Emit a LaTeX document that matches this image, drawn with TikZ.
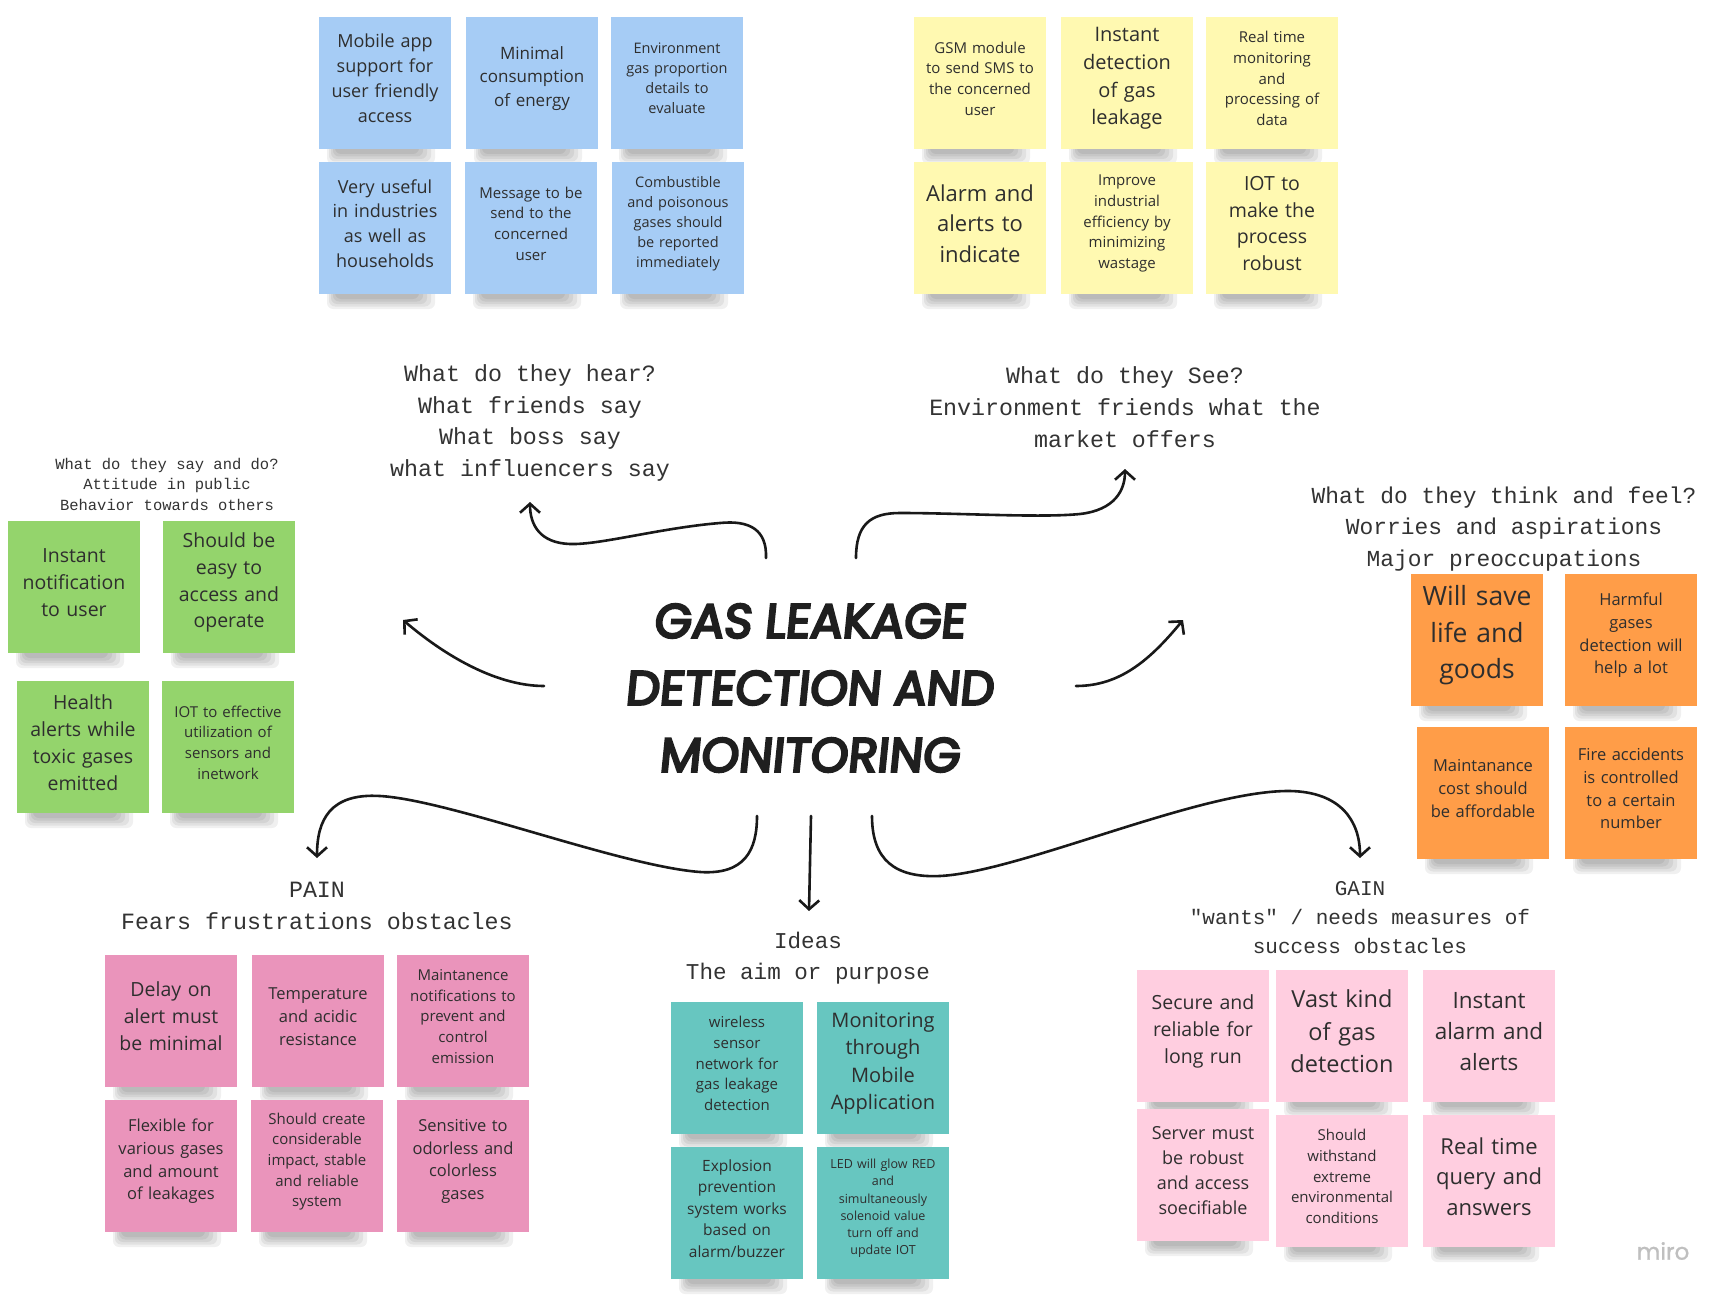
\documentclass[tikz,border=0pt]{standalone}
\usepackage{fontspec}
\setmainfont{Open Sans}
\newfontfamily\monofont{Liberation Mono}
\newfontfamily\titlefont{Poppins}[FakeBold=5,FakeSlant=0.1]
\newfontfamily\wmfont{Poppins}[FakeBold=1]
\usetikzlibrary{arrows.meta}
\definecolor{nblue}{HTML}{A6CCF5}
\definecolor{nyellow}{HTML}{FFF9B1}
\definecolor{ngreen}{HTML}{94D46C}
\definecolor{norange}{HTML}{FF9D48}
\definecolor{npink}{HTML}{EA94BB}
\definecolor{nteal}{HTML}{67C6C0}
\definecolor{nlpink}{HTML}{FFCEE0}
\definecolor{notetext}{HTML}{2E2E2E}
\definecolor{headtext}{HTML}{333333}
\tikzset{
  note/.style={minimum width=132pt, minimum height=132pt, inner sep=0pt},
  notetxt/.style={inner sep=0pt, text width=126pt, align=center, text=notetext},
  head/.style={align=center, inner sep=0pt, text=headtext},
  flow/.style={line width=2.6pt, draw=black!90, -{Straight Barb[length=9pt,width=20pt]}, line cap=round, line join=round},
}
\newcommand\stickynote[6]{%
  \foreach \k in {0,...,4}{\fill[black, opacity=0.06, rounded corners=6pt] (#2+8+2*\k, #3+118) rectangle (#2+116-4*\k, #3+147-2.5*\k);}
  \node[note, fill=#4] (#1) at (#2+66,#3+66) {};
  \node[notetxt, font=\fontsize{#5}{\fpeval{1.38*#5}}\selectfont] (#1t) at ([yshift=4.5pt]#1.center) {#6};
}
\begin{document}
\begin{tikzpicture}[x=1pt,y=-1pt]
\fill[white] (0,0) rectangle (1730,1300);
\useasboundingbox (0,0) rectangle (1730,1300);

% blue
\stickynote{b1}{319}{17}{nblue}{18}{Mobile app\\support for\\user friendly\\access}
\stickynote{b2}{466}{17}{nblue}{17}{Minimal\\consumption\\of energy}
\stickynote{b3}{611}{17}{nblue}{14.5}{Environment\\gas proportion\\details to\\evaluate}
\stickynote{b4}{319}{162}{nblue}{18}{Very useful\\in industries\\as well as\\households}
\stickynote{b5}{465}{162}{nblue}{15}{Message to be\\send to the\\concerned\\user}
\stickynote{b6}{612}{162}{nblue}{14.5}{Combustible\\and poisonous\\gases should\\be reported\\immediately}
% yellow
\stickynote{y1}{914}{17}{nyellow}{15}{GSM module\\to send SMS to\\the concerned\\user}
\stickynote{y2}{1061}{17}{nyellow}{20}{Instant\\detection\\of gas\\leakage}
\stickynote{y3}{1206}{17}{nyellow}{15}{Real time\\monitoring\\and\\processing of\\data}
\stickynote{y4}{914}{162}{nyellow}{22}{Alarm and\\alerts to\\indicate}
\stickynote{y5}{1061}{162}{nyellow}{15}{Improve\\industrial\\efficiency by\\minimizing\\wastage}
\stickynote{y6}{1206}{162}{nyellow}{19.5}{IOT to\\make the\\process\\robust}
% green
\stickynote{g1}{8}{521}{ngreen}{19.5}{Instant\\notification\\to user}
\stickynote{g2}{163}{521}{ngreen}{19.5}{Should be\\easy to\\access and\\operate}
\stickynote{g3}{17}{681}{ngreen}{19.5}{Health\\alerts while\\toxic gases\\emitted}
\stickynote{g4}{162}{681}{ngreen}{15}{IOT to effective\\utilization of\\sensors and\\inetwork}
% orange
\stickynote{o1}{1411}{574}{norange}{26.5}{Will save\\life and\\goods}
\stickynote{o2}{1565}{574}{norange}{16.5}{Harmful\\gases\\detection will\\help a lot}
\stickynote{o3}{1417}{727}{norange}{16.5}{Maintanance\\cost should\\be affordable}
\stickynote{o4}{1565}{727}{norange}{16.5}{Fire accidents\\is controlled\\to a certain\\number}
% pink (pain)
\stickynote{p1}{105}{955}{npink}{19.5}{Delay on\\alert must\\be minimal}
\stickynote{p2}{252}{955}{npink}{16.5}{Temperature\\and acidic\\resistance}
\stickynote{p3}{397}{955}{npink}{15}{Maintanence\\notifications to\\prevent and\\control\\emission}
\stickynote{p4}{105}{1100}{npink}{16.5}{Flexible for\\various gases\\and amount\\of leakages}
\stickynote{p5}{251}{1100}{npink}{15}{Should create\\considerable\\impact, stable\\and reliable\\system}
\stickynote{p6}{397}{1100}{npink}{16.5}{Sensitive to\\odorless and\\colorless\\gases}
% teal (ideas)
\stickynote{t1}{671}{1002}{nteal}{15}{wireless\\sensor\\network for\\gas leakage\\detection}
\stickynote{t2}{817}{1002}{nteal}{20}{Monitoring\\through\\Mobile\\Application}
\stickynote{t3}{671}{1147}{nteal}{15.5}{Explosion\\prevention\\system works\\based on\\alarm/buzzer}
\stickynote{t4}{817}{1147}{nteal}{12.5}{LED will glow RED\\and\\simultaneously\\solenoid value\\turn off and\\update IOT}
% light pink (gain)
\stickynote{l1}{1137}{970}{nlpink}{19.5}{Secure and\\reliable for\\long run}
\stickynote{l2}{1276}{970}{nlpink}{23.5}{Vast kind\\of gas\\detection}
\stickynote{l3}{1423}{970}{nlpink}{22.5}{Instant\\alarm and\\alerts}
\stickynote{l4}{1137}{1109}{nlpink}{18}{Server must\\be robust\\and access\\soecifiable}
\stickynote{l5}{1276}{1115}{nlpink}{15}{Should\\withstand\\extreme\\environmental\\conditions}
\stickynote{l6}{1423}{1115}{nlpink}{22}{Real time\\query and\\answers}

% headings
\node[head, font=\monofont\fontsize{15.5}{20.5}\selectfont] (say) at (167,484) {What do they say and do?\\Attitude in public\\Behavior towards others};
\node[head, font=\monofont\fontsize{23.3}{31.7}\selectfont] (hear) at (530,423) {What do they hear?\\What friends say\\What boss say\\what influencers say};
\node[head, font=\monofont\fontsize{23.3}{31.7}\selectfont] (see) at (1125,407) {What do they See?\\Environment friends what the\\market offers};
\node[head, font=\monofont\fontsize{22.9}{31.5}\selectfont] (think) at (1504,529) {What do they think and feel?\\Worries and aspirations\\Major preoccupations};
\node[head, font=\monofont\fontsize{23.3}{32}\selectfont] (pain) at (317,906) {PAIN\\Fears frustrations obstacles};
\node[head, font=\monofont\fontsize{22.6}{31}\selectfont] (ideas) at (808,958) {Ideas\\The aim or purpose};
\node[head, font=\monofont\fontsize{21}{29}\selectfont] (gain) at (1360,918) {GAIN\\"wants" / needs measures of\\success obstacles};

% title
\node[align=center, inner sep=0pt, text=black!88, font=\titlefont\fontsize{48}{67}\selectfont] (title) at (809,688) {GAS LEAKAGE\\DETECTION AND\\MONITORING};

% connector ends
\coordinate (aS) at (766,558); \coordinate (aT) at (530,502);
\coordinate (bS) at (856,558); \coordinate (bT) at (1125,469);
\coordinate (cS) at (544,686); \coordinate (cT) at (403,620);
\coordinate (dS) at (1076,686); \coordinate (dT) at (1183,620);
\coordinate (eS) at (757,816); \coordinate (eT) at (317,858);
\coordinate (fS) at (811,816); \coordinate (fT) at (809,911);
\coordinate (gS) at (872,816); \coordinate (gT) at (1360,858);

\draw[flow] (aS) .. controls (767,530) and (750,520) .. (720,523) .. controls (660,528) and (600,545) .. (570,544) .. controls (540,543) and (530,525) .. (aT);
\draw[flow] (bS) .. controls (856,525) and (870,513) .. (900,513) .. controls (960,513) and (1040,518) .. (1080,514) .. controls (1115,510) and (1125,490) .. (bT);
\draw[flow] (cS) .. controls (500,686) and (450,660) .. (cT);
\draw[flow] (dS) .. controls (1120,686) and (1150,660) .. (dT);
\draw[flow] (eS) .. controls (757,850) and (745,875) .. (700,872) .. controls (620,866) and (450,800) .. (380,796) .. controls (330,793) and (317,820) .. (eT);
\draw[flow] (fS) -- (fT);
\draw[flow] (gS) .. controls (872,860) and (895,878) .. (940,876) .. controls (1020,872) and (1200,790) .. (1290,791) .. controls (1340,792) and (1360,820) .. (gT);

% watermark
\node[inner sep=0pt, text=black!25, font=\wmfont\fontsize{23}{26}\selectfont] (miro) at (1663,1251) {miro};
\end{tikzpicture}
\end{document}
